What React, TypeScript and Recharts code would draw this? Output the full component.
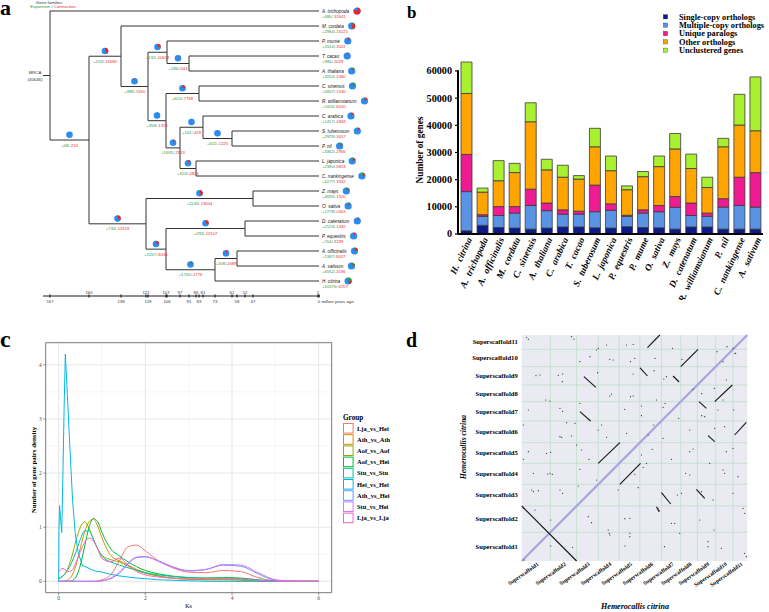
import React from 'react';
import {
  ComposedChart, Line, Scatter, XAxis, YAxis, BarChart, Bar, LineChart, ScatterChart,
  CartesianGrid, ReferenceLine, ReferenceArea,
} from 'recharts';

const SERIF = '"Liberation Serif", "Times New Roman", Times, serif';
const SANS = '"Liberation Sans", Arial, Helvetica, sans-serif';

/* ================= Panel a : phylogeny with gene-family pies ================= */
const TOTAL_FAMILIES = 40646;

const timeTickAges = [167, 160, 138, 121, 119, 107, 106, 97, 91, 86, 83, 81, 73, 61, 58, 52, 47, 2, 0];
const timeTickPos = [0, 39, 71, 96, 98, 116, 117, 130, 139, 146, 149, 153, 165, 182, 187, 195, 203, 268, 269];
const timeTickRow = ['low', 'up', 'low', 'up', 'low', 'up', 'low', 'up', 'low', 'up', 'low', 'up', 'low', 'up', 'low', 'up', 'low', 'up', 'low'];

const leafNames = ['A. trichopoda', 'M. cordata', 'P. mume', 'T. cacao', 'A. thaliana', 'C. sinensis', 'R. williamsianum', 'C. arabica', 'S. tuberosum', 'P. nil', 'L. japonica', 'C. nankingense', 'Z. mays', 'O. sativa', 'D. catenatum', 'P. equestris', 'A. officinalis', 'A. sativum', 'H. citrina'];
const leafGain = [686, 2984, 1514, 996, 3254, 5937, 1005, 1417, 2929, 3362, 2380, 5277, 4695, 1778, 2123, 704, 1387, 6562, 10375];
const leafLoss = [32641, 15121, 3022, 2029, 2460, 1530, 6010, 4969, 3017, 2956, 5813, 3332, 1520, 2403, 1492, 3299, 8027, 3196, 6707];
const leafParent = ['root', 'n138', 'n106', 'n91', 'n91', 'n83', 'n83', 'n81', 'n61', 'n61', 'n86', 'n86', 'n47', 'n47', 'n52', 'n52', 'n58', 'n58', 'n73'];

const nodeIds = ['root', 'n160', 'n138', 'n119', 'n106', 'n91', 'n107a', 'n83', 'n97', 'n81', 'n61', 'n86', 'n121', 'n47', 'n107b', 'n52', 'n73', 'n58'];
const nodeParent = ['', 'root', 'n160', 'n138', 'n119', 'n106', 'n119', 'n107a', 'n107a', 'n97', 'n81', 'n97', 'n160', 'n121', 'n121', 'n107b', 'n107b', 'n73'];
const nodeAge = [167, 160, 138, 119, 106, 91, 107, 83, 97, 81, 61, 86, 121, 47, 107, 52, 73, 58];
const nodeGain = [0, 58, 253, 398, 132, 196, 358, 622, 1691, 161, 611, 620, 730, 1146, 1157, 293, 1720, 168];
const nodeLoss = [0, 224, 15580, 1180, 10608, 644, 1318, 7768, 2913, 428, 1225, 4823, 12319, 13604, 8036, 12107, 2776, 4589];

const PIE_BLUE = '#2b8cf2';
const PIE_GREEN = '#22a53a';
const PIE_RED = '#ee2424';
const TXT_GREEN = '#2f9a3a';
const TXT_RED = '#ec2b2b';
const TXT_SLASH = '#4a7fd0';

const agePos = (age: number) => timeTickPos[timeTickAges.indexOf(age)];
const nodeYMap: Record<string, number> = {};
function yOfNode(id: string): number {
  if (nodeYMap[id] === undefined) {
    const ys: number[] = [];
    nodeIds.forEach((n, i) => { if (nodeParent[i] === id) ys.push(yOfNode(n)); });
    leafParent.forEach((p, i) => { if (p === id) ys.push(i); });
    nodeYMap[id] = (Math.min(...ys) + Math.max(...ys)) / 2;
  }
  return nodeYMap[id];
}
const posOfNode = (id: string) => agePos(nodeAge[nodeIds.indexOf(id)]);
const LEAF_POS = agePos(0);
const ROOT_POS = posOfNode('root');
const ROOT_Y = yOfNode('root');
const STUB_POS = -7;

type Pt = { x: number; y: number };
const treeSegments: Pt[][] = [[{ x: STUB_POS, y: ROOT_Y }, { x: ROOT_POS, y: ROOT_Y }]];
nodeIds.forEach((id, i) => {
  const p = nodeParent[i];
  if (!p) return;
  const px = posOfNode(p), py = yOfNode(p), cy = yOfNode(id);
  treeSegments.push([{ x: px, y: py }, { x: px, y: cy }, { x: posOfNode(id), y: cy }]);
});
leafNames.forEach((_, i) => {
  const p = leafParent[i];
  const px = posOfNode(p), py = yOfNode(p);
  treeSegments.push([{ x: px, y: py }, { x: px, y: i }, { x: LEAF_POS, y: i }]);
});
const branchLabelData = nodeIds
  .map((id, i) => (nodeParent[i] ? { x: (posOfNode(nodeParent[i]) + posOfNode(id)) / 2, y: yOfNode(id), gain: nodeGain[i], loss: nodeLoss[i] } : null))
  .filter((d) => d !== null) as any[];
const leafData = leafNames.map((name, i) => ({ x: LEAF_POS, y: i, name, gain: leafGain[i], loss: leafLoss[i] }));
const rootData = [{ x: STUB_POS, y: ROOT_Y }];

let measureCtx: CanvasRenderingContext2D | null = null;
const measure = (s: string, font: string) => {
  if (!measureCtx) measureCtx = document.createElement('canvas').getContext('2d');
  if (!measureCtx) return s.length * 2.4;
  measureCtx.font = font;
  return measureCtx.measureText(s).width;
};

const FamilyPie = ({ cx, cy, r, gain, loss }: any) => {
  const fg = gain / TOTAL_FAMILIES;
  const fl = loss / TOTAL_FAMILIES;
  const pt = (f: number) => {
    const a = -Math.PI / 2 + 2 * Math.PI * f;
    return [cx + r * Math.cos(a), cy + r * Math.sin(a)];
  };
  const wedge = (f0: number, f1: number, color: string) => {
    if (f1 - f0 <= 0) return null;
    const [x0, y0] = pt(f0);
    const [x1, y1] = pt(f1);
    const large = f1 - f0 > 0.5 ? 1 : 0;
    return <path d={`M${cx},${cy}L${x0},${y0}A${r},${r} 0 ${large} 1 ${x1},${y1}Z`} fill={color} />;
  };
  return (
    <g>
      <circle cx={cx} cy={cy} r={r} fill={PIE_BLUE} />
      {wedge(0, fg, PIE_GREEN)}
      {wedge(fg, fg + fl, PIE_RED)}
    </g>
  );
};

const GainLoss = ({ x, y, gain, loss, anchor }: any) => (
  <text x={x} y={y} textAnchor={anchor} fontFamily={SANS} fontSize={4.2}>
    <tspan fill={TXT_GREEN}>{'+' + gain}</tspan>
    <tspan fill={TXT_SLASH}>/</tspan>
    <tspan fill={TXT_RED}>{'-' + loss}</tspan>
  </text>
);

const BranchLabel = (props: any) => {
  const { cx, cy, payload } = props;
  return (
    <g>
      <FamilyPie cx={cx} cy={cy - 5.2} r={3.3} gain={payload.gain} loss={payload.loss} />
      <GainLoss x={cx} y={cy + 6.6} gain={payload.gain} loss={payload.loss} anchor="middle" />
    </g>
  );
};

const LEAF_FONT = 4.6;
const LeafLabel = (props: any) => {
  const { cx, cy, payload } = props;
  const w = measure(payload.name, `italic ${LEAF_FONT}px "Liberation Sans"`);
  return (
    <g>
      <text x={cx + 3} y={cy + 1.6} fontFamily={SANS} fontStyle="italic" fontSize={LEAF_FONT} fill="#111">{payload.name}</text>
      <GainLoss x={cx + 3} y={cy + 7} gain={payload.gain} loss={payload.loss} anchor="start" />
      <FamilyPie cx={cx + 3 + w + 8} cy={cy} r={3.6} gain={payload.gain} loss={payload.loss} />
    </g>
  );
};

const RootLabel = (props: any) => {
  const { cx, cy } = props;
  return (
    <g fontFamily={SANS} fontSize={4.3} fill="#333">
      <text x={cx - 8} y={cy - 2} textAnchor="middle">MRCA</text>
      <text x={cx - 8} y={cy + 5} textAnchor="middle">{`(${TOTAL_FAMILIES})`}</text>
    </g>
  );
};

const TreeTick = (props: any) => {
  const { x, y, payload } = props;
  const i = timeTickPos.indexOf(payload.value);
  const age = timeTickAges[i];
  const up = timeTickRow[i] === 'up';
  const label = age === 0 ? '0 million years ago' : String(age);
  return (
    <g>
      <line x1={x} x2={x} y1={y - 1.6} y2={y + 1.6} stroke="#000" strokeWidth={0.9} />
      <text x={age === 0 ? x - 1.2 : x} y={up ? y - 2.4 : y + 6.8} textAnchor={age === 0 ? 'start' : 'middle'} fontSize={4.3} fontFamily={SANS} fill="#333">{label}</text>
    </g>
  );
};

function PanelA() {
  return (
    <ComposedChart width={380} height={305} margin={{ top: 11, right: 60, bottom: 0, left: 43 }}>
      <XAxis type="number" dataKey="x" domain={[STUB_POS, 270]} ticks={timeTickPos} interval={0}
        height={9} tickSize={0} tickMargin={0} tickLine={false} axisLine={{ stroke: '#000', strokeWidth: 0.9 }} tick={<TreeTick />} />
      <YAxis type="number" dataKey="y" domain={[0, 19]} reversed hide width={0} />
      {treeSegments.map((seg, i) => (
        <Line key={i} data={seg} dataKey="y" type="linear" stroke="#333" strokeWidth={1} dot={false} activeDot={false} isAnimationActive={false} />
      ))}
      <Scatter data={branchLabelData} dataKey="y" shape={BranchLabel} isAnimationActive={false} />
      <Scatter data={leafData} dataKey="y" shape={LeafLabel} isAnimationActive={false} />
      <Scatter data={rootData} dataKey="y" shape={RootLabel} isAnimationActive={false} />
    </ComposedChart>
  );
}

/* ================= Panel b : stacked bars of gene categories ================= */
const barSpecies = ['H. citrina', 'A. trichopoda', 'A. officinalis', 'M. cordata', 'C. sinensis', 'A. thaliana', 'C. arabica', 'T. cacao', 'S. tuberosum', 'L. japonica', 'P. equestris', 'P. mume', 'O. sativa', 'Z. mays', 'D. catenatum', 'R. williamsianum', 'P. nil', 'C. nankingense', 'A. sativum'];
const singleCopy = [1200, 3200, 2400, 2200, 1800, 2200, 2600, 2600, 2300, 2200, 2700, 2400, 2300, 1800, 2600, 2600, 1800, 1800, 1800];
const multiCopy = [14400, 3300, 4400, 5500, 8700, 6400, 4700, 4700, 5900, 6500, 3800, 5300, 5900, 8000, 4200, 3900, 8100, 8700, 8100];
const uniqueParalogs = [13700, 600, 3300, 2400, 6000, 2800, 1600, 1100, 9800, 2400, 400, 1200, 2300, 4000, 4600, 1200, 3100, 10400, 12700];
const otherOrthologs = [22400, 8300, 9500, 12500, 24800, 12200, 12000, 11800, 14100, 12200, 9400, 12200, 14300, 17500, 12700, 9400, 19100, 19200, 15400];
const unclustered = [11600, 1500, 7400, 3400, 7000, 3900, 4400, 1300, 6800, 5400, 1400, 1900, 3900, 5700, 5300, 3800, 3100, 11300, 19800];
const barYTicks = [0, 10000, 20000, 30000, 40000, 50000, 60000];
const BAR_DOMAIN_MAX = 64000;

const barSeries = [
  { key: 'single', name: 'Single-copy orthologs', color: '#0c1a8c', values: singleCopy },
  { key: 'multi', name: 'Multiple-copy orthologs', color: '#5a93e4', values: multiCopy },
  { key: 'unique', name: 'Unique paralogs', color: '#f01a92', values: uniqueParalogs },
  { key: 'other', name: 'Other orthologs', color: '#ffa500', values: otherOrthologs },
  { key: 'uncl', name: 'Unclustered genes', color: '#a8f030', values: unclustered },
];
const barData = barSpecies.map((s, i) => {
  const row: any = { species: s };
  barSeries.forEach((ser) => { row[ser.key] = ser.values[i]; });
  return row;
});

const B_W = 389, B_H = 300, B_TOP = 60.1, B_XH = 66;
const B_TICK_STEP_PX = ((B_H - B_TOP - B_XH) * 10000) / BAR_DOMAIN_MAX;

const BarYTick = (props: any) => {
  const { x, y, payload } = props;
  return (
    <g>
      <line x1={x - 3} x2={x} y1={y} y2={y} stroke="#000" strokeWidth={1.2} />
      {payload.value > 0 && <line x1={x} x2={x} y1={y - 0.6} y2={y + B_TICK_STEP_PX + 0.6} stroke="#000" strokeWidth={2} />}
      <text x={x - 6} y={y} dy={3.4} textAnchor="end" fontFamily={SERIF} fontWeight="bold" fontSize={10.2} fill="#000">{payload.value}</text>
    </g>
  );
};

const BarXTick = (props: any) => {
  const { x, y, payload } = props;
  const ax = x + 3.5, ay = y + 4;
  return (
    <text x={ax} y={ay} dy={3} textAnchor="end" transform={`rotate(-65 ${ax} ${ay})`} fontFamily={SERIF}
      fontWeight="bold" fontStyle="italic" fontSize={9.3} fill="#000">
      {String(payload.value).replace(' ', '\u00a0 ')}
    </text>
  );
};

function PanelB() {
  return (
    <BarChart width={B_W} height={B_H} data={barData} margin={{ top: B_TOP, right: 6, bottom: 0, left: 18 }} barSize={11}>
      <XAxis dataKey="species" interval={0} height={B_XH} tickLine={false} tickSize={0} tickMargin={0}
        axisLine={{ stroke: '#000', strokeWidth: 2 }} tick={<BarXTick />} />
      <YAxis type="number" domain={[0, BAR_DOMAIN_MAX]} ticks={barYTicks} interval={0} width={60} axisLine={false}
        tickLine={false} tickSize={0} tickMargin={0} tick={<BarYTick />} />
      {barSeries.map((s) => (
        <Bar key={s.key} dataKey={s.key} stackId="genes" fill={s.color} stroke="#3a3a3a" strokeWidth={0.8} isAnimationActive={false} />
      ))}
    </BarChart>
  );
}

/* ================= Panel c : Ks density ================= */
const ksGroups = ['Lja_vs_Hei', 'Ath_vs_Ath', 'Aof_vs_Aof', 'Aof_vs_Hei', 'Stu_vs_Stu', 'Hei_vs_Hei', 'Ath_vs_Hei', 'Stu_vs_Hei', 'Lja_vs_Lja'];
const ksColors = ['#F8766D', '#D39200', '#93AA00', '#00BA38', '#00C19F', '#00B9E3', '#619CFF', '#DB72FB', '#FF61C3'];
const ksGrid = [0, 0.1, 0.2, 0.3, 0.4, 0.5, 0.6, 0.7, 0.8, 0.9, 1.0, 1.2, 1.4, 1.6, 1.8, 2.0, 2.3, 2.6, 3.0, 3.4, 3.8, 4.2, 4.6, 5.0, 5.5, 6.0];
const ksLjaHei = [0, 0, 0, 0, 0, 0, 0, 0, 0, 0.01, 0.03, 0.12, 0.38, 0.64, 0.67, 0.56, 0.38, 0.26, 0.17, 0.16, 0.2, 0.18, 0.07, 0.01, 0, 0];
const ksAthAth = [0, 0, 0.02, 0.1, 0.3, 0.62, 0.92, 1.1, 1.15, 1.02, 0.8, 0.48, 0.38, 0.3, 0.22, 0.16, 0.1, 0.06, 0.04, 0.03, 0.03, 0.02, 0.01, 0, 0, 0];
const ksAofAof = [0.05, 0.1, 0.22, 0.45, 0.76, 1.0, 1.1, 0.98, 0.78, 0.6, 0.48, 0.4, 0.36, 0.28, 0.2, 0.15, 0.1, 0.06, 0.04, 0.03, 0.03, 0.03, 0.01, 0, 0, 0];
const ksAofHei = [0, 0, 0, 0.01, 0.08, 0.3, 0.65, 1.0, 1.16, 1.1, 0.9, 0.6, 0.47, 0.36, 0.27, 0.2, 0.14, 0.1, 0.07, 0.06, 0.07, 0.06, 0.03, 0.005, 0, 0];
const ksStuStu = [0.05, 0.1, 0.2, 0.35, 0.55, 0.78, 0.93, 0.93, 0.78, 0.6, 0.46, 0.36, 0.3, 0.25, 0.2, 0.16, 0.12, 0.09, 0.07, 0.06, 0.06, 0.05, 0.02, 0, 0, 0];
const ksAthHei = [0, 0, 0, 0, 0, 0, 0, 0, 0, 0, 0.01, 0.05, 0.15, 0.32, 0.44, 0.45, 0.38, 0.28, 0.2, 0.22, 0.3, 0.28, 0.14, 0.02, 0, 0];
const ksStuHei = [0, 0, 0, 0, 0, 0, 0, 0, 0, 0, 0.01, 0.06, 0.17, 0.34, 0.45, 0.46, 0.37, 0.27, 0.19, 0.22, 0.31, 0.3, 0.16, 0.03, 0, 0];
const ksLjaLja = [0.18, 0.24, 0.18, 0.2, 0.35, 0.55, 0.72, 0.8, 0.75, 0.6, 0.42, 0.36, 0.43, 0.3, 0.18, 0.12, 0.08, 0.06, 0.05, 0.05, 0.05, 0.04, 0.02, 0, 0, 0];
const ksHeiHeiX = [0, 0.005, 0.02, 0.04, 0.07, 0.1, 0.125, 0.153, 0.2, 0.25, 0.32, 0.38, 0.45, 0.55, 0.65, 0.75, 0.85, 1.0, 1.2, 1.4, 1.6, 1.8, 2.0, 2.3, 2.6, 3.0, 3.5, 4.0, 5.0, 6.0];
const ksHeiHeiY = [0, 0.9, 1.4, 1.2, 0.9, 2.1, 3.2, 4.2, 3.45, 2.6, 1.5, 0.9, 0.53, 0.29, 0.26, 0.22, 0.19, 0.17, 0.13, 0.1, 0.08, 0.06, 0.05, 0.03, 0.02, 0.01, 0, 0, 0, 0];

const onGrid = (vals: number[]) => ksGrid.map((x, i) => ({ x, y: vals[i] }));
const ksSeriesData: { x: number; y: number }[][] = [
  onGrid(ksLjaHei), onGrid(ksAthAth), onGrid(ksAofAof), onGrid(ksAofHei), onGrid(ksStuStu),
  ksHeiHeiX.map((x, i) => ({ x, y: ksHeiHeiY[i] })),
  onGrid(ksAthHei), onGrid(ksStuHei), onGrid(ksLjaLja),
];
const KS_X_DOMAIN = [-0.3, 6.3];
const KS_Y_DOMAIN = [-0.21, 4.41];

function PanelC() {
  const tickStyle = { fontSize: 5.6, fill: '#4D4D4D', fontFamily: SERIF };
  return (
    <LineChart width={400} height={292} margin={{ top: 22.7, right: 68.3, bottom: 9.3, left: 33.7 }}>
      <CartesianGrid horizontalValues={[0.5, 1.5, 2.5, 3.5]} verticalValues={[1, 3, 5]} stroke="#F0F0F0" strokeWidth={0.6} />
      <CartesianGrid horizontalValues={[0, 1, 2, 3, 4]} verticalValues={[0, 2, 4, 6]} stroke="#E6E6E6" strokeWidth={1} />
      <XAxis type="number" dataKey="x" domain={KS_X_DOMAIN} ticks={[0, 2, 4, 6]} interval={0} allowDataOverflow height={10}
        axisLine={false} tickSize={2.5} tickMargin={1} tick={tickStyle} tickLine={{ stroke: '#333', strokeWidth: 0.5 }} />
      <YAxis type="number" dataKey="y" domain={KS_Y_DOMAIN} ticks={[0, 1, 2, 3, 4]} interval={0} allowDataOverflow width={12}
        axisLine={false} tickSize={2.5} tickMargin={1.5} tick={tickStyle} tickLine={{ stroke: '#333', strokeWidth: 0.5 }} />
      <ReferenceArea x1={KS_X_DOMAIN[0]} x2={KS_X_DOMAIN[1]} y1={KS_Y_DOMAIN[0]} y2={KS_Y_DOMAIN[1]} fill="none" fillOpacity={0} stroke="#555" strokeWidth={0.8} />
      {ksSeriesData.map((d, i) => (
        <Line key={ksGroups[i]} data={d} dataKey="y" type={ksGroups[i] === 'Hei_vs_Hei' ? 'linear' : 'monotone'}
          stroke={ksColors[i]} strokeWidth={1} dot={false} activeDot={false} isAnimationActive={false} />
      ))}
    </LineChart>
  );
}

/* ================= Panel d : self dot plot ================= */
const scaffoldNames = ['Superscaffold1', 'Superscaffold2', 'Superscaffold3', 'Superscaffold4', 'Superscaffold5', 'Superscaffold6', 'Superscaffold7', 'Superscaffold8', 'Superscaffold9', 'Superscaffold10', 'Superscaffold11'];
const scaffoldLengths = [86, 79, 65, 63, 62, 65, 58, 50, 55, 52, 43];
const scaffoldStarts = scaffoldLengths.map((_, i) => scaffoldLengths.slice(0, i).reduce((a, b) => a + b, 0));
const GENOME_LEN = scaffoldLengths.reduce((a, b) => a + b, 0);
const scaffoldMids = scaffoldStarts.map((s, i) => s + scaffoldLengths[i] / 2);
const scaffoldBounds = scaffoldStarts.slice(1);

const syntenyBlocks = [
  [0, 165, 165, 0], [230, 293, 295, 355], [295, 230, 357, 293], [175, 448, 207, 420], [378, 640, 415, 678],
  [478, 583, 530, 635], [580, 478, 633, 528], [640, 378, 675, 416], [355, 580, 378, 555], [455, 555, 473, 537],
  [420, 205, 448, 171], [533, 478, 555, 458], [560, 376, 580, 358], [525, 215, 550, 188], [187, 553, 223, 521],
  [405, 163, 413, 148],
];
const dotX = [15, 20, 150, 157, 225, 230, 255, 315, 335, 453, 617, 635, 643, 175, 205, 265, 275, 327, 340, 401, 482, 587, 605, 641,
  43, 55, 110, 123, 122, 228, 335, 427, 435, 398, 615, 72, 85, 265, 270, 327, 335, 515, 541, 579, 605, 405,
  20, 115, 123, 175, 310, 360, 360, 425, 431, 472, 541, 550, 590, 637,
  5, 135, 160, 115, 120, 150, 230, 240, 255, 315, 380, 397, 425, 505, 580, 610,
  5, 20, 75, 87, 165, 180, 202, 360, 392, 450, 505, 515, 565, 615, 635,
  35, 78, 85, 92, 175, 225, 340, 365, 375, 493, 505, 605, 610, 650,
  30, 35, 50, 115, 123, 170, 290, 350, 468, 480, 540, 575, 635,
  5, 40, 87, 200, 210, 310, 325, 410, 413, 450, 460, 535, 578, 665, 670,
  87, 153, 260, 263, 265, 310, 325, 325, 429, 475, 560, 560, 600, 670, 675, 8];
const dotY = [671, 665, 673, 666, 633, 638, 648, 648, 650, 638, 643, 638, 623, 598, 613, 605, 603, 598, 608, 608, 605, 628, 598, 623,
  556, 558, 557, 561, 538, 565, 561, 546, 553, 571, 543, 483, 480, 495, 501, 493, 495, 515, 502, 518, 483, 483,
  453, 458, 449, 473, 455, 465, 436, 461, 473, 428, 436, 433, 453, 453,
  408, 415, 413, 373, 371, 375, 393, 408, 371, 383, 378, 408, 368, 393, 398, 403,
  305, 328, 323, 326, 348, 333, 305, 318, 335, 305, 328, 336, 293, 328, 338,
  263, 261, 263, 260, 275, 243, 260, 281, 293, 263, 258, 273, 263, 253,
  213, 208, 211, 213, 203, 225, 213, 220, 198, 203, 208, 183, 203,
  158, 153, 123, 133, 115, 127, 128, 158, 151, 113, 113, 123, 93, 158, 143,
  45, 41, 93, 83, 78, 45, 83, 73, 43, 83, 58, 43, 38, 23, 13, 3];
const dotData = dotX.map((x, i) => ({ x, y: dotY[i] }));

const DotShape = (props: any) => <circle cx={props.cx} cy={props.cy} r={0.6} fill="#222" />;

const DotYTick = (props: any) => {
  const { x, y, payload } = props;
  const i = scaffoldMids.indexOf(payload.value);
  return (
    <text x={x - 4} y={y} dy={2.3} textAnchor="end" fontFamily={SERIF} fontWeight="bold" fontSize={6.6} fill="#000">{scaffoldNames[i]}</text>
  );
};
const DotXTick = (props: any) => {
  const { x, y, payload } = props;
  const i = scaffoldMids.indexOf(payload.value);
  const ax = x + 3, ay = y + 4;
  return (
    <text x={ax} y={ay} textAnchor="end" transform={`rotate(-35 ${ax} ${ay})`} fontFamily={SERIF} fontWeight="bold" fontSize={5.6} fill="#000">{scaffoldNames[i]}</text>
  );
};

function PanelD() {
  return (
    <ScatterChart width={369} height={292} margin={{ top: 15, right: 21.7, bottom: 11, left: 51.7 }}>
      <CartesianGrid fill="#EAEAF2" fillOpacity={1} horizontalValues={scaffoldBounds} verticalValues={scaffoldBounds} stroke="#BCDFC8" strokeWidth={0.8} />
      <XAxis type="number" dataKey="x" domain={[0, GENOME_LEN]} ticks={scaffoldMids} interval={0} allowDataOverflow height={40}
        axisLine={false} tickLine={false} tickSize={0} tickMargin={0} tick={<DotXTick />} />
      <YAxis type="number" dataKey="y" domain={[0, GENOME_LEN]} ticks={scaffoldMids} interval={0} allowDataOverflow width={70}
        axisLine={false} tickLine={false} tickSize={0} tickMargin={0} tick={<DotYTick />} />
      <ReferenceLine segment={[{ x: 0, y: 0 }, { x: GENOME_LEN, y: GENOME_LEN }]} stroke="#A9A4DE" strokeWidth={2.2} />
      {syntenyBlocks.map((s, i) => (
        <ReferenceLine key={i} segment={[{ x: s[0], y: s[1] }, { x: s[2], y: s[3] }]} stroke="#151515" strokeWidth={1.1} />
      ))}
      <Scatter data={dotData} shape={DotShape} isAnimationActive={false} />
    </ScatterChart>
  );
}

/* ================= Overlay texts & legends ================= */
function Overlay() {
  const bRow0 = 16.8, bRowStep = 8.35;
  const cRow0 = 428.3, cRowStep = 11.2;
  return (
    <svg width={769} height={612} style={{ position: 'absolute', left: 0, top: 0, pointerEvents: 'none' }}>
      <text x={0} y={15} fontFamily={SERIF} fontWeight="bold" fontSize={22}>a</text>
      <text x={407} y={18.3} fontFamily={SERIF} fontWeight="bold" fontSize={17}>b</text>
      <text x={0} y={347} fontFamily={SERIF} fontWeight="bold" fontSize={24}>c</text>
      <text x={406} y={347} fontFamily={SERIF} fontWeight="bold" fontSize={20}>d</text>

      <text x={49} y={3.6} textAnchor="middle" fontFamily={SANS} fontSize={4.3} fill="#333">Gene families</text>
      <text x={53} y={8.2} textAnchor="middle" fontFamily={SANS} fontSize={4.3}>
        <tspan fill={TXT_GREEN}>Expansion</tspan>
        <tspan fill="#555"> / </tspan>
        <tspan fill={TXT_RED}>Contraction</tspan>
      </text>

      <text x={420} y={150} dy={3.2} textAnchor="middle" transform="rotate(-90 420 150)" fontFamily={SERIF} fontWeight="bold" fontSize={9.3}>Number of genes</text>
      {barSeries.map((s, i) => (
        <g key={s.key}>
          <rect x={663.3} y={bRow0 + i * bRowStep - 2.15} width={4.3} height={4.3} fill={s.color} stroke="#222" strokeWidth={0.3} />
          <text x={679} y={bRow0 + i * bRowStep + 2.8} fontFamily={SERIF} fontWeight="bold" fontSize={8.3}>{s.name}</text>
        </g>
      ))}

      <text x={34} y={470} dy={2.4} textAnchor="middle" transform="rotate(-90 34 470)" fontFamily={SERIF} fontWeight="bold" fontSize={6.9}>Number of gene pairs density</text>
      <text x={188.5} y={608} textAnchor="middle" fontFamily={SERIF} fontSize={6}>Ks</text>
      <text x={343} y={420} fontFamily={SERIF} fontWeight="bold" fontSize={7.2}>Group</text>
      {ksGroups.map((g, i) => (
        <g key={g}>
          <rect x={343.5} y={cRow0 + i * cRowStep - 4.8} width={9.6} height={9.6} fill="#fff" stroke={ksColors[i]} strokeWidth={1} />
          <text x={357} y={cRow0 + i * cRowStep + 2.2} fontFamily={SERIF} fontWeight="bold" fontSize={6.5}>{g}</text>
        </g>
      ))}

      <text x={635} y={609} textAnchor="middle" fontFamily={SERIF} fontWeight="bold" fontStyle="italic" fontSize={8}>Hemerocallis citrina</text>
      <text x={463} y={447} dy={2.7} textAnchor="middle" transform="rotate(-90 463 447)" fontFamily={SERIF} fontWeight="bold" fontStyle="italic" fontSize={7.6}>Hemerocallis citrina</text>
    </svg>
  );
}

export default function App() {
  return (
    <div style={{ position: 'absolute', left: 0, top: 0, width: 769, height: 612, background: '#fff', overflow: 'hidden' }}>
      <div style={{ position: 'absolute', left: 0, top: 0 }}><PanelA /></div>
      <div style={{ position: 'absolute', left: 380, top: 0 }}><PanelB /></div>
      <div style={{ position: 'absolute', left: 0, top: 320 }}><PanelC /></div>
      <div style={{ position: 'absolute', left: 400, top: 320 }}><PanelD /></div>
      <Overlay />
    </div>
  );
}
